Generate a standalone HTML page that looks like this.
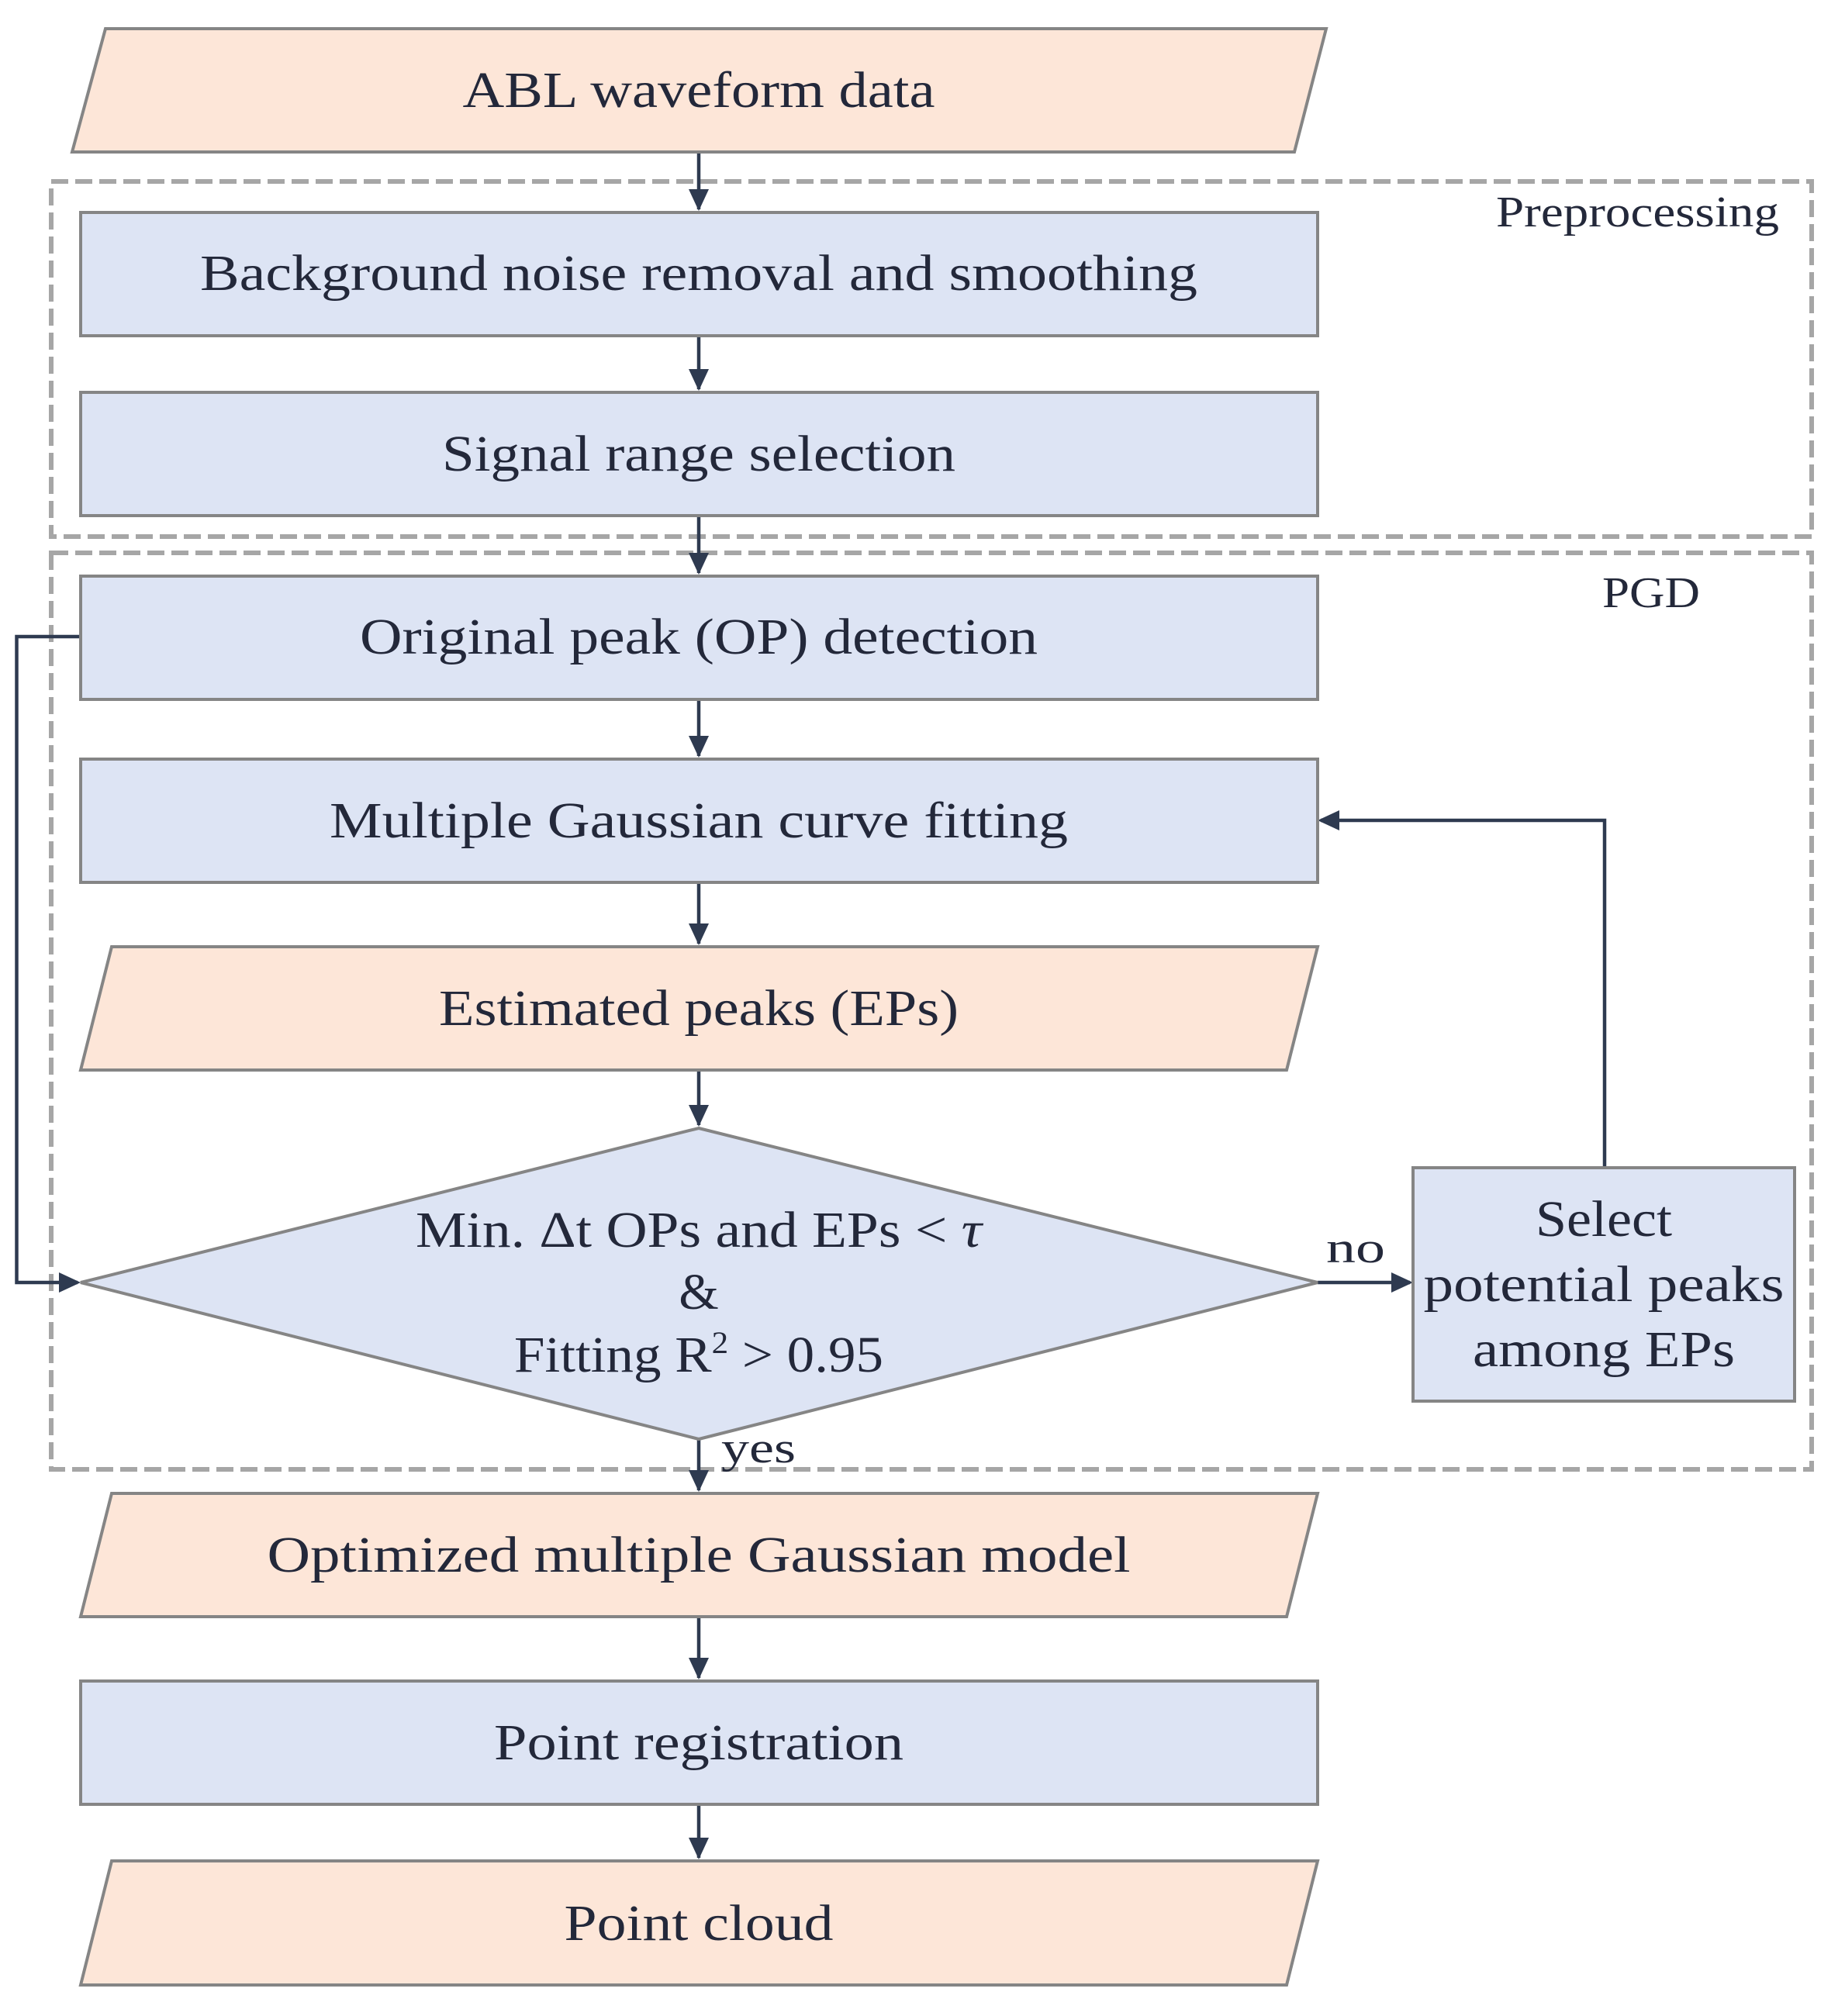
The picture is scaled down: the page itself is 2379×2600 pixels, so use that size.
<!DOCTYPE html>
<html><head><meta charset="utf-8"><style>
html,body{margin:0;padding:0;background:#fff}
svg{display:block}
text{font-family:"Liberation Serif",serif;fill:#23283a}
</style></head><body>
<svg width="2379" height="2600" viewBox="0 0 2379 2600" xmlns="http://www.w3.org/2000/svg">
<g fill="none" stroke="#a6a6a6" stroke-width="6" stroke-dasharray="22,9">
<rect x="66" y="234" width="2270" height="458"/>
<rect x="66" y="713" width="2270" height="1182"/>
</g>
<g stroke="#2e3a50" stroke-width="4.5" fill="none">
<path d="M901 196 V270"/><path d="M901 433 V502"/><path d="M901 665 V739"/>
<path d="M901 902 V975"/><path d="M901 1138 V1217"/><path d="M901 1380 V1451"/>
<path d="M901 1856 V1922"/><path d="M901 2085 V2164"/><path d="M901 2327 V2396"/>
<path d="M104 821 H21.5 V1654 H100"/>
<path d="M1699 1654 H1818"/>
<path d="M2069 1506 V1058 H1703"/>
</g>
<g fill="#2e3a50">
<path d="M888 244 L914 244 L901 272 z"/><path d="M888 476 L914 476 L901 504 z"/>
<path d="M888 713 L914 713 L901 741 z"/><path d="M888 949 L914 949 L901 977 z"/>
<path d="M888 1191 L914 1191 L901 1219 z"/><path d="M888 1425 L914 1425 L901 1453 z"/>
<path d="M888 1896 L914 1896 L901 1924 z"/><path d="M888 2138 L914 2138 L901 2166 z"/>
<path d="M888 2370 L914 2370 L901 2398 z"/>
<path d="M76 1641 L76 1667 L104 1654 z"/><path d="M1794 1641 L1794 1667 L1822 1654 z"/>
<path d="M1727 1045 L1727 1071 L1699 1058 z"/>
</g>
<g stroke="#858585" stroke-width="4">
<polygon points="136,37 1710,37 1669,196 93,196" fill="#fde6d8"/>
<rect x="104" y="274" width="1595" height="159" fill="#dde4f4"/>
<rect x="104" y="506" width="1595" height="159" fill="#dde4f4"/>
<rect x="104" y="743" width="1595" height="159" fill="#dde4f4"/>
<rect x="104" y="979" width="1595" height="159" fill="#dde4f4"/>
<polygon points="144,1221 1699,1221 1659,1380 104,1380" fill="#fde6d8"/>
<polygon points="901,1455 1699,1654 901,1856 104,1654" fill="#dde4f4"/>
<rect x="1822" y="1506" width="492" height="301" fill="#dde4f4"/>
<polygon points="144,1926 1699,1926 1659,2085 104,2085" fill="#fde6d8"/>
<rect x="104" y="2168" width="1595" height="159" fill="#dde4f4"/>
<polygon points="144,2400 1699,2400 1659,2560 104,2560" fill="#fde6d8"/>
</g>
<g font-size="66" text-anchor="middle" lengthAdjust="spacingAndGlyphs">
<text x="901" y="138" textLength="609" lengthAdjust="spacingAndGlyphs">ABL waveform data</text>
<text x="901" y="374" textLength="1286" lengthAdjust="spacingAndGlyphs">Background noise removal and smoothing</text>
<text x="901" y="607" textLength="662" lengthAdjust="spacingAndGlyphs">Signal range selection</text>
<text x="901" y="843" textLength="874" lengthAdjust="spacingAndGlyphs">Original peak (OP) detection</text>
<text x="901" y="1080" textLength="952" lengthAdjust="spacingAndGlyphs">Multiple Gaussian curve fitting</text>
<text x="901" y="1322" textLength="670" lengthAdjust="spacingAndGlyphs">Estimated peaks (EPs)</text>
<text x="901" y="1608" textLength="730" lengthAdjust="spacingAndGlyphs">Min. Δt OPs and EPs &lt; <tspan font-style="italic">τ</tspan></text>
<text x="901" y="1688">&amp;</text>
<text x="901" y="1769" textLength="476" lengthAdjust="spacingAndGlyphs">Fitting R<tspan font-size="40" dy="-24">2</tspan><tspan dy="24"> &gt; 0.95</tspan></text>
<text x="2068" y="1594" textLength="176" lengthAdjust="spacingAndGlyphs">Select</text>
<text x="2068" y="1678" textLength="465" lengthAdjust="spacingAndGlyphs">potential peaks</text>
<text x="2068" y="1762" textLength="338" lengthAdjust="spacingAndGlyphs">among EPs</text>
<text x="901" y="2027" textLength="1113" lengthAdjust="spacingAndGlyphs">Optimized multiple Gaussian model</text>
<text x="901" y="2269" textLength="528" lengthAdjust="spacingAndGlyphs">Point registration</text>
<text x="901" y="2502" textLength="347" lengthAdjust="spacingAndGlyphs">Point cloud</text>
</g>
<g font-size="56">
<text x="1929" y="292" textLength="365" lengthAdjust="spacingAndGlyphs">Preprocessing</text>
<text x="2066" y="783" textLength="126" lengthAdjust="spacingAndGlyphs">PGD</text>
<text x="1710" y="1628" textLength="76" lengthAdjust="spacingAndGlyphs">no</text>
<text x="930" y="1886" textLength="96" lengthAdjust="spacingAndGlyphs">yes</text>
</g>
</svg>
</body></html>
